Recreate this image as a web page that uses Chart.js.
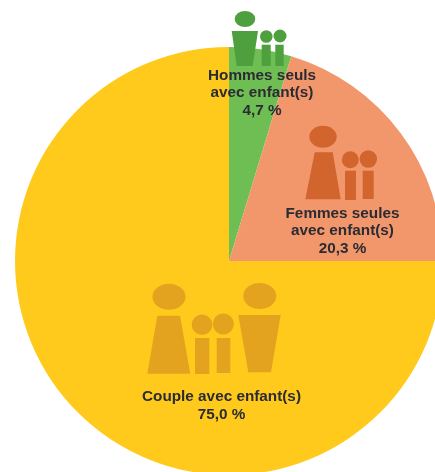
<!DOCTYPE html>
<html lang="fr">
<head>
<meta charset="utf-8">
<title>Familles avec enfant(s)</title>
<script src="https://cdn.jsdelivr.net/npm/chart.js@4/dist/chart.umd.min.js"></script>
<style>
  html, body { margin: 0; padding: 0; background: #fff; }
  #wrap { width: 435px; height: 472px; overflow: hidden; }
</style>
</head>
<body>
<div id="wrap"><canvas id="chart" width="458" height="522"></canvas></div>
<script>
// data
const categories = ['Hommes seuls avec enfant(s)', 'Femmes seules avec enfant(s)', 'Couple avec enfant(s)'];
const labelLines = [['Hommes seuls', 'avec enfant(s)'], ['Femmes seules', 'avec enfant(s)'], ['Couple avec enfant(s)']];
const shares = [4.7, 20.3, 75.0];
const sliceColors = ['#6FBE54', '#F2976B', '#FFCA1B'];
const iconColors = ['#4EA03F', '#D2642D', '#E3A31E'];

// helpers for the little family pictograms
function head(ctx, x, y, rx, ry) {
  ctx.beginPath();
  ctx.ellipse(x, y, rx, ry, 0, 0, Math.PI * 2);
  ctx.fill();
}
function torso(ctx, topL, topR, topY, botL, botR, botY) {
  ctx.beginPath();
  ctx.moveTo(topL, topY);
  ctx.lineTo(topR, topY);
  ctx.lineTo(botR, botY);
  ctx.lineTo(botL, botY);
  ctx.closePath();
  ctx.fill();
}
function child(ctx, cx, cy, r, left, right, top, bottom) {
  head(ctx, cx, cy, r, r);
  ctx.fillRect(left, top, right - left, bottom - top);
}

function drawIcons(ctx) {
  // homme seul
  ctx.fillStyle = iconColors[0];
  head(ctx, 245, 19, 10.3, 8);
  torso(ctx, 231.7, 258, 31, 236.7, 252.7, 66);
  child(ctx, 266.3, 36.5, 6.3, 261.7, 270.7, 44.7, 66);
  child(ctx, 280, 36, 6.5, 275.3, 283.7, 44.7, 66);

  // femme seule
  ctx.fillStyle = iconColors[1];
  head(ctx, 323, 136.7, 13.7, 11);
  torso(ctx, 314.7, 332.7, 152.3, 305.3, 340.7, 199.3);
  child(ctx, 350.3, 159.7, 8.5, 345, 356, 170.7, 200);
  child(ctx, 368.3, 159, 8.7, 362.7, 373.7, 170.7, 199);

  // couple
  ctx.fillStyle = iconColors[2];
  head(ctx, 169, 296.7, 16.5, 13);
  torso(ctx, 157.3, 180, 315.7, 147.3, 190.3, 373.7);
  child(ctx, 202, 324.7, 10.3, 195, 209.3, 338, 374);
  child(ctx, 223.3, 324, 10.5, 216.7, 230.3, 338, 373);
  head(ctx, 259.7, 296, 16.5, 13);
  torso(ctx, 238.3, 280.7, 315, 248.3, 271, 372.3);
}

function drawLabels(ctx) {
  const anchors = [[262, 75.5], [342.5, 213.5], [221.5, 397]];
  ctx.fillStyle = '#2B2B33';
  ctx.font = 'bold 15.3px "Liberation Sans", Arial, sans-serif';
  ctx.textAlign = 'center';
  ctx.textBaseline = 'middle';
  shares.forEach((v, i) => {
    const lines = labelLines[i].concat(v.toFixed(1).replace('.', ',') + ' %');
    lines.forEach((line, j) => {
      ctx.fillText(line, anchors[i][0], anchors[i][1] + j * 17.5);
    });
  });
}

const overlay = {
  id: 'overlay',
  afterDraw(chart) {
    const ctx = chart.ctx;
    ctx.save();
    drawIcons(ctx);
    drawLabels(ctx);
    ctx.restore();
  }
};

new Chart(document.getElementById('chart'), {
  type: 'pie',
  data: {
    labels: categories,
    datasets: [{
      data: shares,
      backgroundColor: sliceColors,
      borderWidth: 0
    }]
  },
  options: {
    responsive: false,
    animation: false,
    radius: 214,
    plugins: {
      legend: { display: false },
      tooltip: { enabled: false }
    }
  },
  plugins: [overlay]
});
</script>
</body>
</html>
